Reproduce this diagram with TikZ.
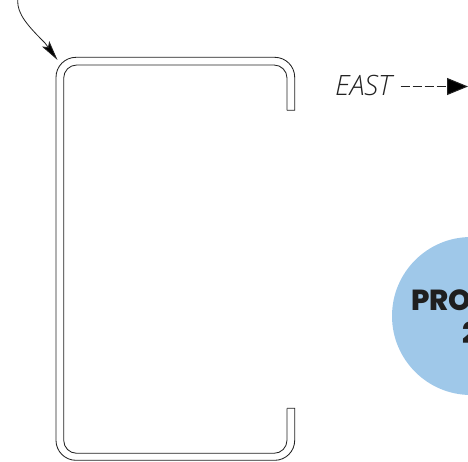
\documentclass[tikz,border=0pt]{standalone}
\usepackage{fontspec}
\setmainfont{Open Sans}
\newfontfamily\eastfont{Open Sans Light Italic}
\newfontfamily\badgefont{Poppins ExtraBold}
\usetikzlibrary{arrows.meta}
\definecolor{badgeblue}{HTML}{9FC8E9}
\definecolor{inkdark}{HTML}{222222}
\tikzset{
  profile/.style={draw=inkdark,line width=0.85pt},
  dashconn/.style={draw=inkdark,line width=1pt,dash pattern=on 9pt off 3pt,-{Triangle[length=21pt,width=17pt,fill=black]}},
  pointer/.style={draw=inkdark,line width=0.8pt,-{Stealth[length=20pt,width=9pt,inset=4pt,fill=black]}},
  eastlabel/.style={inner sep=0pt,text=inkdark,font=\eastfont\fontsize{28}{32}\selectfont},
  badgetext/.style={inner sep=0pt,text=black!88,font=\badgefont\fontsize{29}{32}\selectfont}
}
\begin{document}
\begin{tikzpicture}[x=1pt,y=-1pt]
\useasboundingbox (0,0) rectangle (468,461);
\clip (0,0) rectangle (468,461);
% profile
\draw[profile] (287,110.3) -- (294.7,110.3) -- (294.7,77.3) arc[start angle=0,end angle=90,x radius=20,y radius=-20] -- (76,57.3) arc[start angle=90,end angle=180,x radius=20,y radius=-20] -- (56,440.3) arc[start angle=180,end angle=270,x radius=20,y radius=-20] -- (274.7,460.3) arc[start angle=270,end angle=360,x radius=20,y radius=-20] -- (294.7,408.3) -- (287,408.3);
\draw[profile] (287,110.3) -- (287,78) arc[start angle=0,end angle=90,x radius=13,y radius=-13] -- (76.7,65) arc[start angle=90,end angle=180,x radius=13,y radius=-13] -- (63.7,440.3) arc[start angle=180,end angle=270,x radius=13,y radius=-13] -- (274,453.3) arc[start angle=270,end angle=360,x radius=13,y radius=-13] -- (287,408.3);
% pointer
\coordinate (ptrstart) at (17.7,0);
\coordinate (ptrend) at (57.5,60);
\draw[pointer] (ptrstart) .. controls (17,14) and (28,26) .. (45,43) -- (ptrend);
% east
\node[eastlabel,anchor=base west] (east) at (335,95.5) {EAST};
\coordinate (eastend) at (468,86.5);
\draw[dashconn] (400.5,86.5) -- (eastend);
% badge
\node[circle,fill=badgeblue,minimum size=158pt,inner sep=0pt] (badge) at (471,316) {};
\node[badgetext,anchor=base west] (pro) at (411,310.5) {PRO};
\node[badgetext,anchor=base west] (two) at (462.5,343) {2};
\end{tikzpicture}
\end{document}
